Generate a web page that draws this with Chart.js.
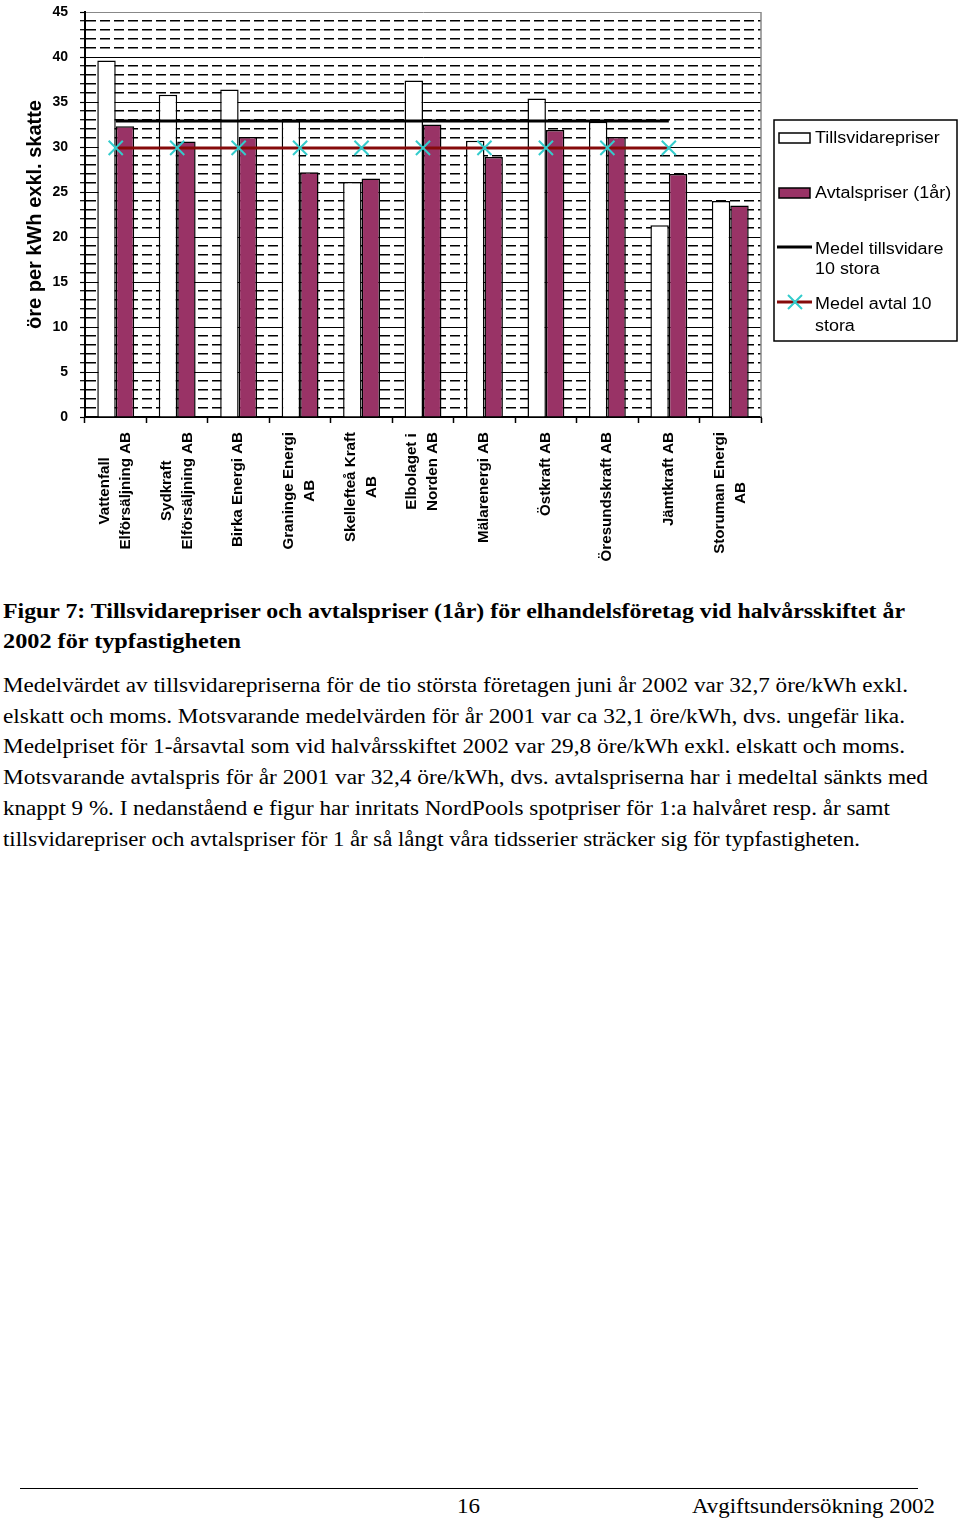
<!DOCTYPE html>
<html>
<head>
<meta charset="utf-8">
<script src="https://cdn.jsdelivr.net/npm/chart.js@4.4.1/dist/chart.umd.min.js"></script>
<style>
  body { margin: 0; background: #fff; width: 960px; height: 1523px; position: relative; overflow: hidden;
         font-family: "Liberation Serif", "Times New Roman", serif; color: #000; }
  #wrap { position: absolute; left: 0; top: 0; width: 960px; height: 580px; }
  .ln { position: absolute; white-space: nowrap; line-height: 30px; font-size: 20px; }
  .ln span { display: inline-block; transform-origin: 0 50%; }
  #rule { position: absolute; left: 20px; top: 1488px; width: 898px; height: 0; border-top: 1px solid #000; }
</style>
</head>
<body>
<div id="wrap"><canvas id="c" width="960" height="580"></canvas></div>
<div id="rule"></div>
<div id="text"></div>
<script>
// chart data
const companies = [
  ["Vattenfall", "Elförsäljning AB"],
  ["Sydkraft", "Elförsäljning AB"],
  ["Birka Energi AB"],
  ["Graninge Energi", "AB"],
  ["Skellefteå Kraft", "AB"],
  ["Elbolaget i", "Norden AB"],
  ["Mälarenergi AB"],
  ["Östkraft AB"],
  ["Öresundskraft AB"],
  ["Jämtkraft AB"],
  ["Storuman Energi", "AB"]
];
const tillsvidare = [39.6, 35.8, 36.4, 32.9, 26.1, 37.4, 30.7, 35.4, 32.8, 21.3, 24.0];
const avtal       = [32.3, 30.6, 31.1, 27.2, 26.5, 32.5, 28.9, 31.9, 31.1, 27.0, 23.5];
const medelTillsvidare = [32.9, 32.9, 32.9, 32.9, 32.9, 32.9, 32.9, 32.9, 32.9, 32.9, null];
const medelAvtal       = [29.9, 29.9, 29.9, 29.9, 29.9, 29.9, 29.9, 29.9, 29.9, 29.9, null];
const yMin = 0, yMax = 45, yMajor = 5;
const yTitle = "öre per kWh exkl. skatte";
const legendText = [["Tillsvidarepriser"], ["Avtalspriser (1år)"], ["Medel tillsvidare", "10 stora"], ["Medel avtal 10", "stora"]];

const PURPLE = '#993366', DARKRED = '#850a0a', CYAN = '#33CCCC';
const SANS = '"Liberation Sans", Arial, sans-serif';

// rotated, centred multi-line category labels
const xLabels = {
  id: 'xLabels',
  afterDraw(chart) {
    const { ctx, scales: { x } } = chart;
    ctx.save();
    ctx.font = 'bold 14px ' + SANS;
    ctx.fillStyle = '#000';
    ctx.textAlign = 'center';
    ctx.textBaseline = 'middle';
    const sx = 1.08, top = x.top + 15, gap = 21;
    companies.forEach((lines, i) => {
      const px = x.getPixelForValue(i);
      const w = Math.max(...lines.map(t => ctx.measureText(t).width)) * sx;
      lines.forEach((t, j) => {
        ctx.save();
        ctx.translate(px + (j - (lines.length - 1) / 2) * gap, top + w / 2);
        ctx.rotate(-Math.PI / 2);
        ctx.scale(sx, 1);
        ctx.fillText(t, 0, 0);
        ctx.restore();
      });
    });
    ctx.restore();
  }
};

// grey frame on the right, boxed legend
const frameLegend = {
  id: 'frameLegend',
  afterDraw(chart) {
    const { ctx, chartArea: a } = chart;
    ctx.save();
    ctx.strokeStyle = '#888';
    ctx.lineWidth = 1.5;
    ctx.beginPath();
    ctx.moveTo(a.right, a.top);
    ctx.lineTo(a.right, a.bottom);
    ctx.stroke();

    ctx.strokeStyle = '#000';
    ctx.strokeRect(774, 120, 183, 221);

    // symbols
    ctx.fillStyle = '#fff';
    ctx.fillRect(779, 133, 31, 10);
    ctx.strokeRect(779, 133, 31, 10);
    ctx.fillStyle = PURPLE;
    ctx.fillRect(779, 188, 31, 10);
    ctx.strokeRect(779, 188, 31, 10);
    ctx.lineWidth = 3;
    ctx.beginPath(); ctx.moveTo(777, 247); ctx.lineTo(812, 247); ctx.stroke();
    ctx.strokeStyle = DARKRED;
    ctx.beginPath(); ctx.moveTo(777, 302); ctx.lineTo(812, 302); ctx.stroke();
    ctx.strokeStyle = CYAN;
    ctx.lineWidth = 2;
    ctx.beginPath();
    ctx.moveTo(788, 295); ctx.lineTo(802, 309);
    ctx.moveTo(802, 295); ctx.lineTo(788, 309);
    ctx.stroke();

    // text
    ctx.fillStyle = '#000';
    ctx.font = '16px ' + SANS;
    ctx.textBaseline = 'middle';
    const rows = [[139], [194], [250, 270], [305, 327]];
    legendText.forEach((lines, i) => {
      lines.forEach((t, j) => {
        ctx.save();
        ctx.translate(815, rows[i][j]);
        ctx.scale(1.12, 1);
        ctx.fillText(t, 0, 0);
        ctx.restore();
      });
    });
    ctx.restore();
  }
};

new Chart(document.getElementById('c'), {
  data: {
    labels: companies,
    datasets: [
      { type: 'line', label: legendText[2].join(' '), data: medelTillsvidare, borderColor: '#000',
        borderWidth: 3, pointRadius: 0, order: 0 },
      { type: 'line', label: legendText[3].join(' '), data: medelAvtal, borderColor: DARKRED,
        borderWidth: 3, pointStyle: 'crossRot', pointRadius: 10, pointBorderColor: CYAN,
        pointBorderWidth: 2, order: 0 },
      { type: 'bar', label: legendText[0][0], data: tillsvidare, backgroundColor: '#fff',
        borderColor: '#000', borderWidth: 1.5, order: 1 },
      { type: 'bar', label: legendText[1][0], data: avtal, backgroundColor: PURPLE,
        borderColor: '#000', borderWidth: 1.5, order: 1 }
    ]
  },
  options: {
    responsive: false,
    animation: false,
    devicePixelRatio: 1,
    categoryPercentage: 0.6,
    barPercentage: 1.0,
    layout: { padding: { top: 8, right: 199, left: 0, bottom: 0 } },
    plugins: { legend: { display: false }, tooltip: { enabled: false } },
    scales: {
      x: {
        offset: true,
        ticks: { display: false },
        grid: { offset: true, drawOnChartArea: false, drawTicks: true, tickLength: 6,
                tickColor: '#000', tickWidth: 1.5 },
        border: { color: '#000', width: 2 },
        afterFit: s => { s.height = 163; }
      },
      y: {
        min: yMin, max: yMax,
        ticks: {
          stepSize: 1, autoSkip: false, padding: 12, color: '#000',
          font: { family: SANS, size: 14, weight: 'bold' },
          callback: v => (v % yMajor === 0 ? v : '')
        },
        grid: {
          color: c => (c.tick && c.tick.value === yMax ? '#888' : '#000'),
          lineWidth: c => (c.tick && c.tick.value % yMajor !== 0 ? 1.4 : 1),
          tickLength: 5, tickColor: '#000', tickWidth: 1.2, tickBorderDash: []
        },
        border: {
          color: '#000', width: 2,
          dash: c => (c.tick && c.tick.value % yMajor !== 0 ? [10, 4] : [])
        },
        title: { display: true, text: yTitle, color: '#000',
                 font: { family: SANS, size: 20, weight: 'bold' }, padding: { top: 23, bottom: 0 } },
        afterFit: s => { s.width = 85; s.paddingTop = 0; s.paddingBottom = 0; }
      }
    }
  },
  plugins: [xLabels, frameLegend]
});

// caption, body text and footer, each line stretched to its width in the page
const lines = [
  { t: "Figur 7: Tillsvidarepriser och avtalspriser (1år) för elhandelsföretag vid halvårsskiftet år", x: 3, r: 905, y: 611, b: true, s: 21 },
  { t: "2002 för typfastigheten", x: 3, r: 241, y: 641, b: true, s: 21 },
  { t: "Medelvärdet av tillsvidarepriserna för de tio största företagen juni år 2002 var 32,7 öre/kWh exkl.", x: 3, r: 908, y: 685 },
  { t: "elskatt och moms. Motsvarande medelvärden för år 2001 var ca 32,1 öre/kWh, dvs. ungefär lika.", x: 3, r: 905, y: 716 },
  { t: "Medelpriset för 1-årsavtal som vid halvårsskiftet 2002 var 29,8 öre/kWh exkl. elskatt och moms.", x: 3, r: 905, y: 746 },
  { t: "Motsvarande avtalspris för år 2001 var 32,4 öre/kWh, dvs. avtalspriserna har i medeltal sänkts med", x: 3, r: 928, y: 777 },
  { t: "knappt 9 %. I nedanståend e figur har inritats NordPools spotpriser för 1:a halvåret resp. år samt", x: 3, r: 890, y: 808 },
  { t: "tillsvidarepriser och avtalspriser för 1 år så långt våra tidsserier sträcker sig för typfastigheten.", x: 3, r: 860, y: 839 },
  { t: "16", x: 457, r: 480, y: 1506, s: 22 },
  { t: "Avgiftsundersökning 2002", x: 692, r: 935, y: 1506, s: 22 }
];
const holder = document.getElementById('text');
lines.forEach(l => {
  const d = document.createElement('div');
  d.className = 'ln';
  d.style.left = l.x + 'px';
  d.style.top = (l.y - 15) + 'px';
  if (l.s) d.style.fontSize = l.s + 'px';
  if (l.b) d.style.fontWeight = 'bold';
  const sp = document.createElement('span');
  sp.textContent = l.t;
  d.appendChild(sp);
  holder.appendChild(d);
  const w = sp.getBoundingClientRect().width;
  sp.style.transform = 'scaleX(' + ((l.r - l.x) / w).toFixed(4) + ')';
});
</script>
</body>
</html>
